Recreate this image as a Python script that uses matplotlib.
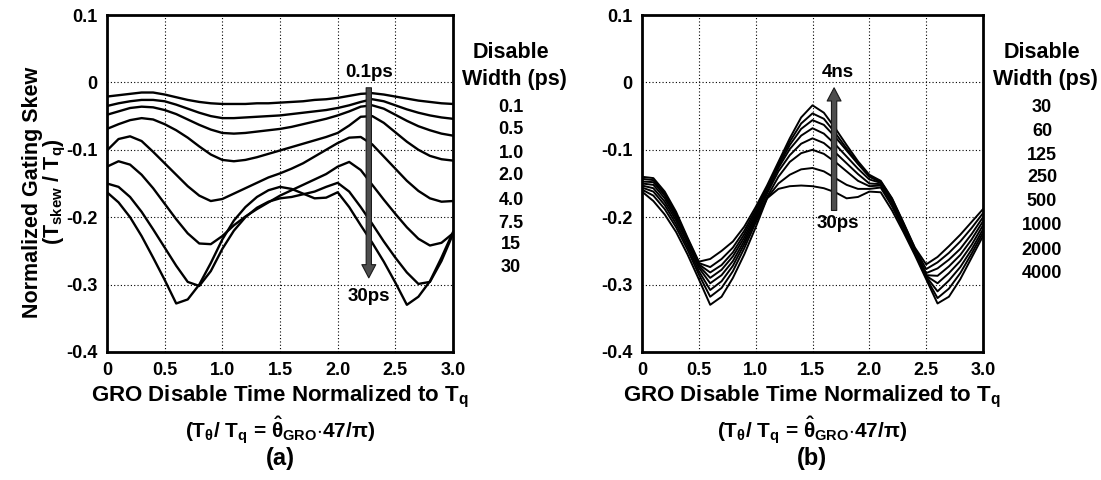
import numpy as np
import matplotlib
matplotlib.use("Agg")
import matplotlib.pyplot as plt

plt.rcParams['font.family'] = ['Liberation Sans', 'DejaVu Sans']
plt.rcParams['font.weight'] = 'bold'
plt.rcParams['mathtext.fontset'] = 'custom'
plt.rcParams['mathtext.rm'] = 'Liberation Sans:bold'
plt.rcParams['mathtext.bf'] = 'Liberation Sans:bold'
plt.rcParams['mathtext.it'] = 'Liberation Sans:bold'
plt.rcParams['mathtext.sf'] = 'Liberation Sans:bold'
plt.rcParams['mathtext.default'] = 'bf'

# ---------------- data ----------------
x_a = [round(0.1 * i, 1) for i in range(31)]
widths_a = ["0.1", "0.5", "1.0", "2.0", "4.0", "7.5", "15", "30"]
skew_a_01 = [-0.021,-0.019,-0.017,-0.015,-0.015,-0.018,-0.022,-0.026,-0.029,-0.031,-0.032,-0.032,-0.032,-0.031,-0.031,-0.030,-0.029,-0.028,-0.026,-0.025,-0.023,-0.020,-0.017,-0.016,-0.018,-0.021,-0.024,-0.027,-0.029,-0.031,-0.032]
skew_a_05 = [-0.035,-0.031,-0.028,-0.026,-0.026,-0.028,-0.033,-0.039,-0.045,-0.050,-0.053,-0.053,-0.052,-0.051,-0.050,-0.049,-0.047,-0.045,-0.043,-0.041,-0.038,-0.034,-0.029,-0.025,-0.028,-0.034,-0.040,-0.045,-0.049,-0.052,-0.054]
skew_a_1 = [-0.048,-0.043,-0.038,-0.036,-0.037,-0.041,-0.047,-0.055,-0.063,-0.070,-0.075,-0.076,-0.075,-0.073,-0.071,-0.069,-0.066,-0.062,-0.058,-0.054,-0.049,-0.043,-0.036,-0.034,-0.039,-0.048,-0.057,-0.065,-0.071,-0.076,-0.079]
skew_a_2 = [-0.069,-0.062,-0.056,-0.053,-0.055,-0.062,-0.071,-0.082,-0.095,-0.107,-0.115,-0.117,-0.115,-0.111,-0.106,-0.101,-0.096,-0.091,-0.086,-0.081,-0.075,-0.064,-0.051,-0.050,-0.060,-0.074,-0.088,-0.100,-0.109,-0.114,-0.116]
skew_a_4 = [-0.101,-0.084,-0.080,-0.087,-0.103,-0.120,-0.137,-0.154,-0.168,-0.176,-0.173,-0.165,-0.157,-0.149,-0.141,-0.135,-0.128,-0.120,-0.110,-0.100,-0.090,-0.082,-0.081,-0.092,-0.110,-0.128,-0.146,-0.161,-0.172,-0.177,-0.176]
skew_a_75 = [-0.125,-0.117,-0.122,-0.137,-0.157,-0.180,-0.203,-0.224,-0.239,-0.240,-0.228,-0.212,-0.199,-0.188,-0.178,-0.168,-0.160,-0.152,-0.144,-0.136,-0.125,-0.118,-0.130,-0.152,-0.174,-0.195,-0.215,-0.232,-0.242,-0.238,-0.224]
skew_a_15 = [-0.150,-0.155,-0.170,-0.192,-0.218,-0.245,-0.272,-0.296,-0.302,-0.280,-0.247,-0.220,-0.200,-0.186,-0.177,-0.172,-0.170,-0.166,-0.162,-0.155,-0.149,-0.162,-0.185,-0.210,-0.236,-0.260,-0.282,-0.299,-0.296,-0.265,-0.225]
skew_a_30 = [-0.163,-0.178,-0.200,-0.228,-0.260,-0.293,-0.328,-0.322,-0.300,-0.268,-0.233,-0.205,-0.185,-0.170,-0.160,-0.155,-0.158,-0.165,-0.172,-0.171,-0.163,-0.185,-0.212,-0.238,-0.266,-0.297,-0.330,-0.318,-0.295,-0.260,-0.222]

x_b = [round(0.1 * i, 1) for i in range(31)]
widths_b = ["30", "60", "125", "250", "500", "1000", "2000", "4000"]
skew_b_30 = [-0.162,-0.176,-0.196,-0.222,-0.255,-0.292,-0.330,-0.318,-0.290,-0.255,-0.215,-0.172,-0.158,-0.154,-0.153,-0.154,-0.157,-0.163,-0.172,-0.170,-0.162,-0.163,-0.190,-0.222,-0.256,-0.292,-0.328,-0.318,-0.292,-0.260,-0.228]
skew_b_60 = [-0.159,-0.168,-0.188,-0.215,-0.248,-0.285,-0.318,-0.305,-0.280,-0.246,-0.208,-0.172,-0.150,-0.137,-0.129,-0.127,-0.132,-0.142,-0.152,-0.158,-0.158,-0.156,-0.184,-0.218,-0.253,-0.290,-0.320,-0.306,-0.283,-0.254,-0.223]
skew_b_125 = [-0.156,-0.162,-0.182,-0.210,-0.243,-0.280,-0.308,-0.295,-0.272,-0.240,-0.204,-0.170,-0.140,-0.118,-0.105,-0.100,-0.106,-0.118,-0.132,-0.146,-0.154,-0.153,-0.180,-0.216,-0.251,-0.288,-0.310,-0.294,-0.274,-0.248,-0.218]
skew_b_250 = [-0.153,-0.157,-0.177,-0.205,-0.238,-0.275,-0.298,-0.286,-0.265,-0.235,-0.200,-0.165,-0.132,-0.108,-0.091,-0.083,-0.090,-0.104,-0.120,-0.136,-0.150,-0.151,-0.178,-0.214,-0.250,-0.287,-0.298,-0.283,-0.265,-0.241,-0.212]
skew_b_500 = [-0.150,-0.152,-0.172,-0.201,-0.236,-0.272,-0.290,-0.278,-0.258,-0.230,-0.197,-0.162,-0.127,-0.099,-0.079,-0.068,-0.076,-0.092,-0.110,-0.128,-0.144,-0.149,-0.176,-0.212,-0.249,-0.286,-0.287,-0.273,-0.256,-0.233,-0.206]
skew_b_1000 = [-0.147,-0.148,-0.168,-0.198,-0.234,-0.270,-0.282,-0.271,-0.252,-0.225,-0.193,-0.159,-0.124,-0.093,-0.069,-0.056,-0.063,-0.081,-0.101,-0.121,-0.140,-0.148,-0.175,-0.211,-0.248,-0.283,-0.276,-0.263,-0.247,-0.225,-0.200]
skew_b_2000 = [-0.143,-0.145,-0.165,-0.195,-0.232,-0.268,-0.274,-0.262,-0.245,-0.220,-0.189,-0.156,-0.121,-0.088,-0.061,-0.046,-0.054,-0.075,-0.098,-0.120,-0.139,-0.147,-0.173,-0.209,-0.246,-0.277,-0.267,-0.253,-0.236,-0.216,-0.194]
skew_b_4000 = [-0.140,-0.142,-0.162,-0.192,-0.230,-0.266,-0.262,-0.250,-0.236,-0.214,-0.185,-0.153,-0.118,-0.083,-0.052,-0.034,-0.045,-0.068,-0.093,-0.117,-0.137,-0.146,-0.172,-0.208,-0.245,-0.270,-0.259,-0.243,-0.226,-0.207,-0.188]

series_a = [skew_a_01, skew_a_05, skew_a_1, skew_a_2, skew_a_4, skew_a_75, skew_a_15, skew_a_30]
series_b = [skew_b_30, skew_b_60, skew_b_125, skew_b_250, skew_b_500, skew_b_1000, skew_b_2000, skew_b_4000]

xticks = [0, 0.5, 1.0, 1.5, 2.0, 2.5, 3.0]
xticklabels = ["0", "0.5", "1.0", "1.5", "2.0", "2.5", "3.0"]
yticks = [-0.4, -0.3, -0.2, -0.1, 0.0, 0.1]
yticklabels = ["-0.4", "-0.3", "-0.2", "-0.1", "0", "0.1"]

# ---------------- figure ----------------
W, H = 1101, 480
fig = plt.figure(figsize=(W / 100, H / 100), dpi=100)
axa = fig.add_axes([107 / W, 128 / H, 346 / W, 337 / H])
axb = fig.add_axes([642 / W, 128 / H, 341 / W, 337 / H])

def style(ax):
    ax.set_xlim(0, 3.0)
    ax.set_ylim(-0.4, 0.1)
    ax.set_xticks(xticks)
    ax.set_xticklabels(xticklabels, fontsize=13, fontweight='bold')
    ax.set_yticks(yticks)
    ax.set_yticklabels(yticklabels, fontsize=13, fontweight='bold')
    ax.tick_params(length=0, pad=7)
    ax.grid(True, color='black', linestyle=(0, (1, 2)), linewidth=0.8)
    for s in ax.spines.values():
        s.set_linewidth(2.0)
        s.set_color('black')
    ax.set_axisbelow(True)

for ax in (axa, axb):
    style(ax)

for ys in series_a:
    axa.plot(x_a, ys, color='black', lw=1.7, solid_joinstyle='round')
for ys in series_b:
    axb.plot(x_b, ys, color='black', lw=1.4, solid_joinstyle='round')

# arrows
arrow_kw = dict(width=3.8, headwidth=10, headlength=9.5, facecolor='#4d4d4d',
                edgecolor='#1a1a1a', lw=0.8, shrink=0)
axa.annotate('', xy=(2.27, -0.29), xytext=(2.27, -0.008), arrowprops=arrow_kw)
axa.text(2.27, 0.014, '0.1ps', ha='center', va='center', fontsize=13.5, fontweight='bold')
axa.text(2.27, -0.318, '30ps', ha='center', va='center', fontsize=13.5, fontweight='bold')

axb.annotate('', xy=(1.69, -0.008), xytext=(1.69, -0.19), arrowprops=arrow_kw)
axb.text(1.72, 0.014, '4ns', ha='center', va='center', fontsize=13.5, fontweight='bold')
axb.text(1.72, -0.209, '30ps', ha='center', va='center', fontsize=13.5, fontweight='bold')

# legends (text columns)
def legend_col(xc, labels, ys):
    fig.text(xc / W, 1 - 53 / H, 'Disable', ha='center', va='center', fontsize=15.5, fontweight='bold')
    fig.text((xc + 3) / W, 1 - 80 / H, 'Width (ps)', ha='center', va='center', fontsize=15.5, fontweight='bold')
    for lab, yy in zip(labels, ys):
        fig.text(xc / W, 1 - yy / H, lab, ha='center', va='center', fontsize=13, fontweight='bold')

legend_col(511, widths_a, [107, 130, 153, 176, 200, 223, 245, 267])
legend_col(1042, widths_b, [108, 132, 155, 178, 202, 226, 250, 273])

# y label (two lines)
fig.text(45 / W, 1 - 192 / H,
         'Normalized Gating Skew\n' + r'(T$_{\mathbf{skew}}$ / T$_{\mathbf{q}}$)',
         rotation=90, ha='center', va='center', multialignment='center',
         fontsize=15.5, fontweight='bold', linespacing=0.9)

# x labels
for xc, tag in ((280, '(a)'), (812, '(b)')):
    fig.text(xc / W, 1 - 397 / H, r'GRO Disable Time Normalized to T$_{\mathbf{q}}$', ha='center', va='center',
             fontsize=16, fontweight='bold')
    fig.text(xc / W, 1 - 430 / H,
             r'(T$_{\mathbf{\theta}}$/ T$_{\mathbf{q}}$ = $\hat{\mathbf{\theta}}_{\mathbf{GRO}}$$\cdot$47/$\mathbf{\pi}$)',
             ha='center', va='center', fontsize=15, fontweight='bold')
    fig.text(xc / W, 1 - 459 / H, tag, ha='center', va='center', fontsize=17, fontweight='bold')

fig.savefig('out.png', dpi=100)
